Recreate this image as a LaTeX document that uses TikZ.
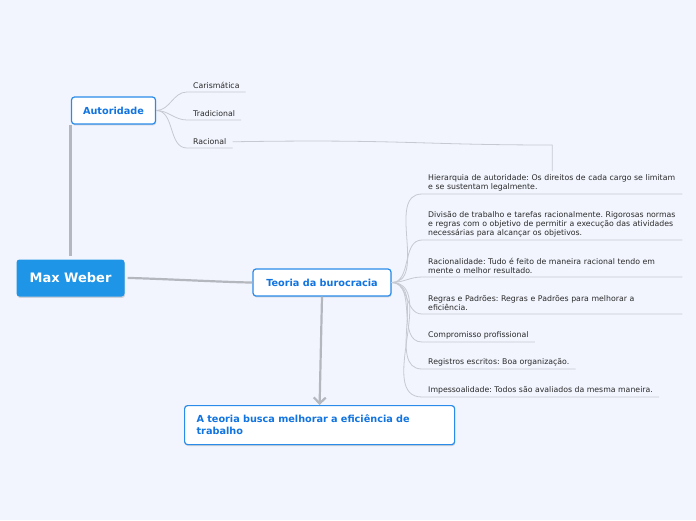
\documentclass[tikz,border=0pt]{standalone}
\usepackage{fontspec}
\setmainfont{DejaVu Sans}
\usetikzlibrary{arrows.meta,shadows}
\frenchspacing

\definecolor{bgblue}{HTML}{F2F5FE}
\definecolor{webblue}{HTML}{1E95E6}
\definecolor{topicblue}{HTML}{1174E0}
\definecolor{edgeblue}{HTML}{2B8BEA}
\definecolor{linkgray}{HTML}{B4B7BE}
\definecolor{twiggray}{HTML}{C6C9D1}
\definecolor{leaftext}{HTML}{2A2A2A}

\tikzset{
  boxshadow/.style={drop shadow={shadow xshift=0.6pt, shadow yshift=-1.4pt, opacity=0.25, fill=black!60}},
  root/.style={fill=webblue, text=white, rounded corners=3pt, inner sep=0pt,
    font=\fontsize{13pt}{15pt}\selectfont\bfseries, boxshadow},
  topic/.style={draw=edgeblue, line width=1.2pt, fill=white, text=topicblue, rounded corners=3pt,
    inner sep=0pt, font=\fontsize{9.7pt}{12pt}\selectfont\bfseries, boxshadow},
  leaf/.style={text=leaftext, font=\fontsize{7.8pt}{9pt}\selectfont, inner xsep=6pt, inner ysep=3pt,
    align=left, anchor=south west},
  longleaf/.style={leaf, text width=248},
  branch/.style={draw=linkgray, line width=2.2pt},
  twig/.style={draw=twiggray, line width=0.8pt},
}

\begin{document}
\begin{tikzpicture}[x=1pt,y=-1pt]
    \fill[bgblue] (0,0) rectangle (696,520);
    \useasboundingbox (0,0) rectangle (696,520);

    % Main topics
    \node[root, minimum width=108, minimum height=37] (weber) at (70.5,278) {Max Weber};
    \node[topic, minimum width=84, minimum height=27] (aut) at (113.5,110.5) {Autoridade};
    \node[topic, minimum width=138, minimum height=27] (teo) at (322,282.5) {Teoria da burocracia};
    \node[topic, minimum width=270, minimum height=39, text width=246, align=left, inner xsep=12pt,
          anchor=north west] (goal) at (184,405) {A teoria busca melhorar a eficiência de\\trabalho};

    % Branches from Max Weber
    \draw[branch, shorten <=3pt] (weber.north) -- (weber.north |- aut.south);
    \draw[branch, shorten <=3pt] (weber.east) to[out=0,in=180,looseness=0.4] (teo.west);
    \draw[branch, -{Straight Barb[length=6pt,width=12pt]}] (teo.south) -- (goal.north);

    % Kinds of authority
    \node[leaf] (car) at (187,92) {Carismática};
    \node[leaf] (tra) at (187,120) {Tradicional};
    \node[leaf] (rac) at (187,148) {Racional};
    \foreach \k in {car,tra,rac}
        \draw[twig] (aut.east) to[out=0,in=180] (\k.south west) -- (\k.south east);

    % Characteristics of bureaucracy
    \node[longleaf] (hier) at (422,194)
        {\mbox{Hierarquia de autoridade: Os direitos de cada cargo se limitam}\\e se sustentam legalmente.};
    \node[longleaf] (div) at (422,240)
        {\mbox{Divisão de trabalho e tarefas racionalmente. Rigorosas normas}\\
         \mbox{e regras com o objetivo de permitir a execução das atividades}\\
         necessárias para alcançar os objetivos.};
    \node[longleaf] (racio) at (422,277)
        {Racionalidade: Tudo é feito de maneira racional tendo em\\mente o melhor resultado.};
    \node[longleaf] (reg) at (422,314)
        {Regras e Padrões: Regras e Padrões para melhorar a\\eficiência.};
    \node[leaf] (comp) at (422,342) {Compromisso profissional};
    \node[leaf] (escr) at (422,369) {Registros escritos: Boa organização.};
    \node[leaf] (imp) at (422,397) {Impessoalidade: Todos são avaliados da mesma maneira.};
    \foreach \k in {hier,div,racio,reg,comp,escr,imp}
        \draw[twig] (teo.east) to[out=0,in=180] (\k.south west) -- (\k.south east);

    % Link Racional -> Hierarquia
    \draw[twig] (rac.east) .. controls (400,139) and (420,145) .. (hier.north |- 0,145) -- (hier.north);

\end{tikzpicture}
\end{document}
